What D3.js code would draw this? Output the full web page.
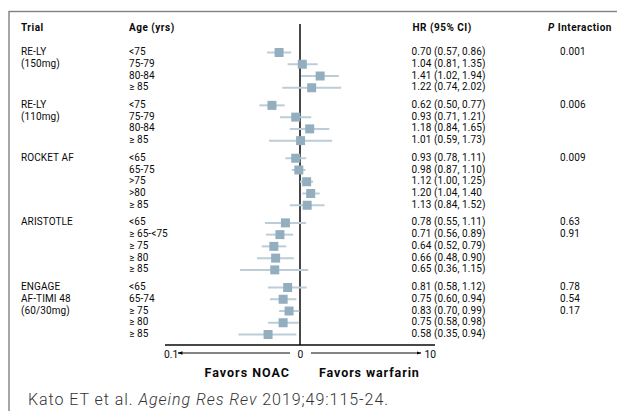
<!DOCTYPE html>
<html>
<head>
<meta charset="utf-8">
<script src="https://cdn.jsdelivr.net/npm/d3@7/dist/d3.min.js"></script>
<style>
  html, body { margin: 0; padding: 0; background: #fff; }
  svg { display: block; font-family: Roboto, "Noto Sans", sans-serif; }
</style>
</head>
<body>
<svg id="chart" width="617" height="411"></svg>
<script>
// ---------------- data ----------------
const trialNames = [
  ["RE-LY", "(150mg)"],
  ["RE-LY", "(110mg)"],
  ["ROCKET AF"],
  ["ARISTOTLE"],
  ["ENGAGE", "AF-TIMI 48", "(60/30mg)"]
];
const ageGroups = [
  ["<75", "75-79", "80-84", "\u2265 85"],
  ["<75", "75-79", "80-84", "\u2265 85"],
  ["<65", "65-75", ">75", ">80", "\u2265 85"],
  ["<65", "\u2265 65-<75", "\u2265 75", "\u2265 80", "\u2265 85"],
  ["<65", "65-74", "\u2265 75", "\u2265 80", "\u2265 85"]
];
const hrValues = [
  [0.70, 1.04, 1.41, 1.22],
  [0.62, 0.93, 1.18, 1.01],
  [0.93, 0.98, 1.12, 1.20, 1.13],
  [0.78, 0.71, 0.64, 0.66, 0.65],
  [0.81, 0.75, 0.83, 0.75, 0.58]
];
const ciLower = [
  [0.57, 0.81, 1.02, 0.74],
  [0.50, 0.71, 0.84, 0.59],
  [0.78, 0.87, 1.00, 1.04, 0.84],
  [0.55, 0.56, 0.52, 0.48, 0.36],
  [0.58, 0.60, 0.70, 0.58, 0.35]
];
const ciUpper = [
  [0.86, 1.35, 1.94, 2.02],
  [0.77, 1.21, 1.65, 1.73],
  [1.11, 1.10, 1.25, 1.40, 1.52],
  [1.11, 0.89, 0.79, 0.90, 1.15],
  [1.12, 0.94, 0.99, 0.98, 0.94]
];
// label printed without closing parenthesis in the source
const unclosedLabels = [[2, 3]];
const pInteraction = [
  ["0.001"],
  ["0.006"],
  ["0.009"],
  ["0.63", "0.91"],
  ["0.78", "0.54", "0.17"]
];
const axisTicks = [0.1, 1, 10];
const axisTickLabels = ["0.1", "0", "10"];
const headers = { trial: "Trial", age: "Age (yrs)", hr: "HR (95% CI)" };
const sideLabels = ["Favors NOAC", "Favors warfarin"];

// ---------------- build rows ----------------
const groupGap = 0.5;
const rows = [];
let idx = 0;
ageGroups.forEach((ages, g) => {
  ages.forEach((a, r) => {
    const unclosed = unclosedLabels.some(u => u[0] === g && u[1] === r);
    rows.push({
      g, r, age: a,
      hr: hrValues[g][r], lo: ciLower[g][r], hi: ciUpper[g][r],
      slot: idx + g * groupGap,
      label: `${hrValues[g][r].toFixed(2)} (${ciLower[g][r].toFixed(2)}, ${ciUpper[g][r].toFixed(2)}${unclosed ? "" : ")"}`,
      p: (pInteraction[g][r] || ""),
      trialLine: (trialNames[g][r] || "")
    });
    idx++;
  });
});
const lastSlot = d3.max(rows, d => d.slot);

// ---------------- scales ----------------
const x = d3.scaleLog().domain([0.1, 10]).range([165, 435]);
const y = d3.scaleLinear().domain([0, lastSlot]).range([51.5, 333.5]);

const svg = d3.select("#chart");
const fs = 10;
const ink = "#0a0a0a";

// border box
svg.append("rect")
  .attr("x", 9).attr("y", 11.5)
  .attr("width", 700).attr("height", 500)
  .attr("fill", "none").attr("stroke", "#808080").attr("stroke-width", 1.4);

// headers
const headerY = 27;
const colTrial = 21, colAge = 129, colHR = 411.5, colP = 548;
function header(xPos, txt) {
  return svg.append("text").attr("x", xPos).attr("y", headerY).attr("dy", "0.35em")
    .attr("font-size", fs).attr("font-weight", 700).attr("letter-spacing", 0.5)
    .attr("fill", ink).text(txt);
}
header(colTrial, headers.trial);
header(colAge, headers.age);
header(colHR + 1, headers.hr);
const pHead = header(colP, "");
pHead.append("tspan").attr("font-style", "italic").text("P");
pHead.append("tspan").text(" Interaction");

// reference line at HR = 1
const axisY = 345;
svg.append("line")
  .attr("x1", x(1)).attr("x2", x(1))
  .attr("y1", 24).attr("y2", axisY)
  .attr("stroke", ink).attr("stroke-width", 1.5);

// rows: CI lines & squares
const rowG = svg.append("g");
rowG.selectAll("line.ci").data(rows).join("line")
  .attr("class", "ci")
  .attr("x1", d => x(d.lo)).attr("x2", d => x(d.hi))
  .attr("y1", d => y(d.slot) + 1).attr("y2", d => y(d.slot) + 1)
  .attr("stroke", "#bccdd7").attr("stroke-width", 2);
const sq = 9;
rowG.selectAll("rect.pt").data(rows).join("rect")
  .attr("class", "pt")
  .attr("x", d => x(d.hr) - sq / 2).attr("y", d => y(d.slot) + 1 - sq / 2)
  .attr("width", sq).attr("height", sq)
  .attr("fill", "#93afbf");

// text columns
function textCol(key, xPos) {
  svg.append("g").selectAll("text").data(rows.filter(d => d[key] !== "")).join("text")
    .attr("x", xPos).attr("y", d => y(d.slot)).attr("dy", "0.35em")
    .attr("font-size", fs).attr("letter-spacing", 0.1).attr("fill", ink)
    .text(d => d[key]);
}
textCol("trialLine", colTrial);
textCol("age", colAge);
textCol("label", colHR);
textCol("p", 560);

// x axis
svg.append("line")
  .attr("x1", x(0.1)).attr("x2", x(10))
  .attr("y1", axisY).attr("y2", axisY)
  .attr("stroke", ink).attr("stroke-width", 1.3);

const tickY = 354;
const anchors = ["start", "middle", "end"];
axisTicks.forEach((t, i) => {
  svg.append("text")
    .attr("x", x(t) + (i === 0 ? -1 : i === 2 ? 1 : 0.5))
    .attr("y", tickY).attr("dy", "0.35em")
    .attr("text-anchor", anchors[i])
    .attr("font-size", fs + 0.3).attr("fill", ink)
    .text(axisTickLabels[i]);
});

// arrows
const defs = svg.append("defs");
defs.append("marker").attr("id", "arr")
  .attr("viewBox", "0 0 10 10").attr("refX", 9).attr("refY", 5)
  .attr("markerWidth", 5).attr("markerHeight", 5).attr("orient", "auto-start-reverse")
  .append("path").attr("d", "M0,1.5 L10,5 L0,8.5 z").attr("fill", ink);
svg.append("line")
  .attr("x1", x(1) - 10).attr("x2", x(0.1) + 13)
  .attr("y1", tickY - 1).attr("y2", tickY - 1)
  .attr("stroke", ink).attr("stroke-width", 1)
  .attr("marker-end", "url(#arr)");
svg.append("line")
  .attr("x1", x(1) + 11).attr("x2", x(10) - 14)
  .attr("y1", tickY - 1).attr("y2", tickY - 1)
  .attr("stroke", ink).attr("stroke-width", 1)
  .attr("marker-end", "url(#arr)");

// favors labels
svg.append("text").attr("x", x(1) - 10).attr("y", 377)
  .attr("text-anchor", "end").attr("font-size", 12.5).attr("font-weight", 700)
  .attr("letter-spacing", 1).attr("fill", ink).text(sideLabels[0]);
svg.append("text").attr("x", x(1) + 19).attr("y", 377)
  .attr("text-anchor", "start").attr("font-size", 12.5).attr("font-weight", 700)
  .attr("letter-spacing", 0.9).attr("fill", ink).text(sideLabels[1]);

// citation
const cite = svg.append("text").attr("x", 28).attr("y", 405)
  .attr("font-size", 16).attr("font-weight", 300).attr("letter-spacing", 0.95)
  .attr("fill", "#333");
cite.append("tspan").text("Kato ET et al. ");
cite.append("tspan").attr("font-style", "italic").text("Ageing Res Rev");
cite.append("tspan").text(" 2019;49:115-24.");
</script>
</body>
</html>
